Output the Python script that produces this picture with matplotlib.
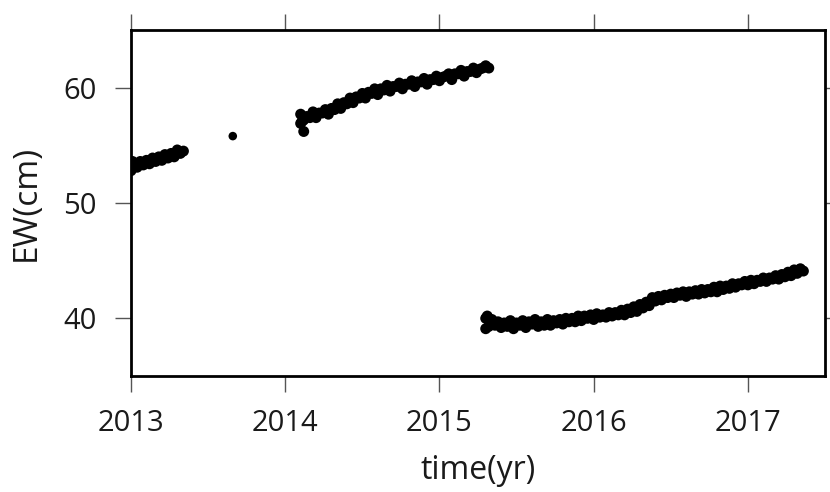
import numpy as np
import matplotlib
matplotlib.use("Agg")
import matplotlib.pyplot as plt

plt.rcParams['font.family'] = ['Open Sans', 'DejaVu Sans']

# segment 1 (early 2013)
t1 = [2013.00, 2013.01, 2013.02, 2013.04, 2013.06, 2013.08, 2013.10, 2013.12, 2013.14, 2013.16,
      2013.18, 2013.20, 2013.22, 2013.24, 2013.26, 2013.28, 2013.30, 2013.32, 2013.34]
ew1 = [52.8, 53.6, 53.3, 53.1, 53.6, 53.3, 53.7, 53.4, 53.9, 53.6,
       54.0, 53.7, 54.2, 53.9, 54.3, 54.0, 54.6, 54.3, 54.5]

# lone point
t_single = [2013.66]
ew_single = [55.8]

# segment 2 (2014 - mid 2015)
t2 = [2014.10, 2014.12, 2014.14, 2014.16, 2014.18, 2014.20, 2014.22, 2014.24, 2014.26, 2014.28,
      2014.30, 2014.32, 2014.34, 2014.36, 2014.38, 2014.40, 2014.42, 2014.44, 2014.46, 2014.48,
      2014.50, 2014.52, 2014.54, 2014.56, 2014.58, 2014.60, 2014.62, 2014.64, 2014.66, 2014.68,
      2014.70, 2014.72, 2014.74, 2014.76, 2014.78, 2014.80, 2014.82, 2014.84, 2014.86, 2014.88,
      2014.90, 2014.92, 2014.94, 2014.96, 2014.98, 2015.00, 2015.02, 2015.04, 2015.06, 2015.08,
      2015.10, 2015.12, 2015.14, 2015.16, 2015.18, 2015.20, 2015.22, 2015.24, 2015.26, 2015.28,
      2015.30, 2015.32,
      2014.10, 2014.11, 2014.12]
ew2 = [57.7, 57.2, 57.5, 57.4, 57.9, 57.4, 57.8, 57.8, 58.1, 57.7,
       58.2, 58.1, 58.6, 58.2, 58.7, 58.6, 59.1, 58.7, 59.2, 59.1,
       59.5, 59.1, 59.6, 59.5, 59.9, 59.4, 59.9, 59.8, 60.2, 59.7,
       60.1, 60.1, 60.4, 59.9, 60.3, 60.3, 60.6, 60.1, 60.5, 60.5,
       60.8, 60.3, 60.7, 60.7, 61.0, 60.6, 60.9, 61.0, 61.2, 60.7,
       61.2, 61.2, 61.5, 61.0, 61.4, 61.4, 61.7, 61.3, 61.6, 61.7,
       61.9, 61.7,
       56.9, 57.1, 56.2]

# segment 3 (mid 2015 - 2017)
t3 = [2015.30, 2015.32, 2015.34, 2015.36, 2015.38, 2015.40, 2015.42, 2015.44, 2015.46, 2015.48,
      2015.50, 2015.52, 2015.54, 2015.56, 2015.58, 2015.60, 2015.62, 2015.64, 2015.66, 2015.68,
      2015.70, 2015.72, 2015.74, 2015.76, 2015.78, 2015.80, 2015.82, 2015.84, 2015.86, 2015.88,
      2015.90, 2015.92, 2015.94, 2015.96, 2015.98, 2016.00, 2016.02, 2016.04, 2016.06, 2016.08,
      2016.10, 2016.12, 2016.14, 2016.16, 2016.18, 2016.20, 2016.22, 2016.24, 2016.26, 2016.28,
      2016.30, 2016.32, 2016.34, 2016.36, 2016.38, 2016.40, 2016.42, 2016.44, 2016.46, 2016.48,
      2016.50, 2016.52, 2016.54, 2016.56, 2016.58, 2016.60, 2016.62, 2016.64, 2016.66, 2016.68,
      2016.70, 2016.72, 2016.74, 2016.76, 2016.78, 2016.80, 2016.82, 2016.84, 2016.86, 2016.88,
      2016.90, 2016.92, 2016.94, 2016.96, 2016.98, 2017.00, 2017.02, 2017.04, 2017.06, 2017.08,
      2017.10, 2017.12, 2017.14, 2017.16, 2017.18, 2017.20, 2017.22, 2017.24, 2017.26, 2017.28,
      2017.30, 2017.32, 2017.34, 2017.36,
      2015.30, 2015.31]
ew3 = [40.0, 39.3, 39.9, 39.4, 39.7, 39.2, 39.6, 39.3, 39.8, 39.1,
       39.6, 39.4, 39.8, 39.2, 39.7, 39.5, 39.9, 39.3, 39.7, 39.4,
       39.9, 39.4, 39.8, 39.6, 39.9, 39.5, 40.0, 39.7, 40.0, 39.7,
       40.2, 39.8, 40.2, 40.0, 40.3, 39.9, 40.4, 40.1, 40.3, 40.1,
       40.5, 40.2, 40.5, 40.3, 40.7, 40.3, 40.8, 40.5, 41.0, 40.6,
       41.2, 40.9, 41.4, 41.1, 41.8, 41.5, 41.9, 41.6, 42.0, 41.8,
       42.1, 41.8, 42.2, 42.0, 42.3, 41.9, 42.3, 42.1, 42.4, 42.1,
       42.5, 42.2, 42.5, 42.3, 42.7, 42.3, 42.8, 42.5, 42.8, 42.6,
       43.0, 42.7, 43.0, 42.9, 43.2, 42.9, 43.3, 43.0, 43.3, 43.2,
       43.5, 43.2, 43.5, 43.4, 43.7, 43.4, 43.8, 43.6, 44.0, 43.7,
       44.2, 43.9, 44.3, 44.1,
       39.1, 40.2]

fig = plt.figure(figsize=(8.3, 4.92), dpi=100)
ax = fig.add_axes([131/830, 1-376/492, 694/830, 346/492])

for tt, yy in [(t1, ew1), (t2, ew2), (t3, ew3)]:
    ax.scatter(tt, yy, s=62, c='black', edgecolors='none', zorder=3)
ax.scatter(t_single, ew_single, s=38, c='black', edgecolors='none', zorder=3)

ax.set_xlim(2013, 2017.5)
ax.set_ylim(35, 65)
ax.set_xticks([2013, 2014, 2015, 2016, 2017])
ax.set_yticks([40, 50, 60])

for sp in ax.spines.values():
    sp.set_linewidth(2.0)
ax.tick_params(axis='both', direction='out', length=11.5, width=1.0, color='#555555',
               labelsize=21, labelcolor='#1a1a1a', top=True, right=True)
ax.tick_params(axis='x', labeltop=False, pad=12)
ax.tick_params(axis='y', labelright=False, pad=13)

ax.set_xlabel('time(yr)', fontsize=23, color='#1a1a1a', labelpad=12)
ax.set_ylabel('EW(cm)', fontsize=24, color='#1a1a1a', labelpad=15)

fig.savefig('out.png', dpi=100)
